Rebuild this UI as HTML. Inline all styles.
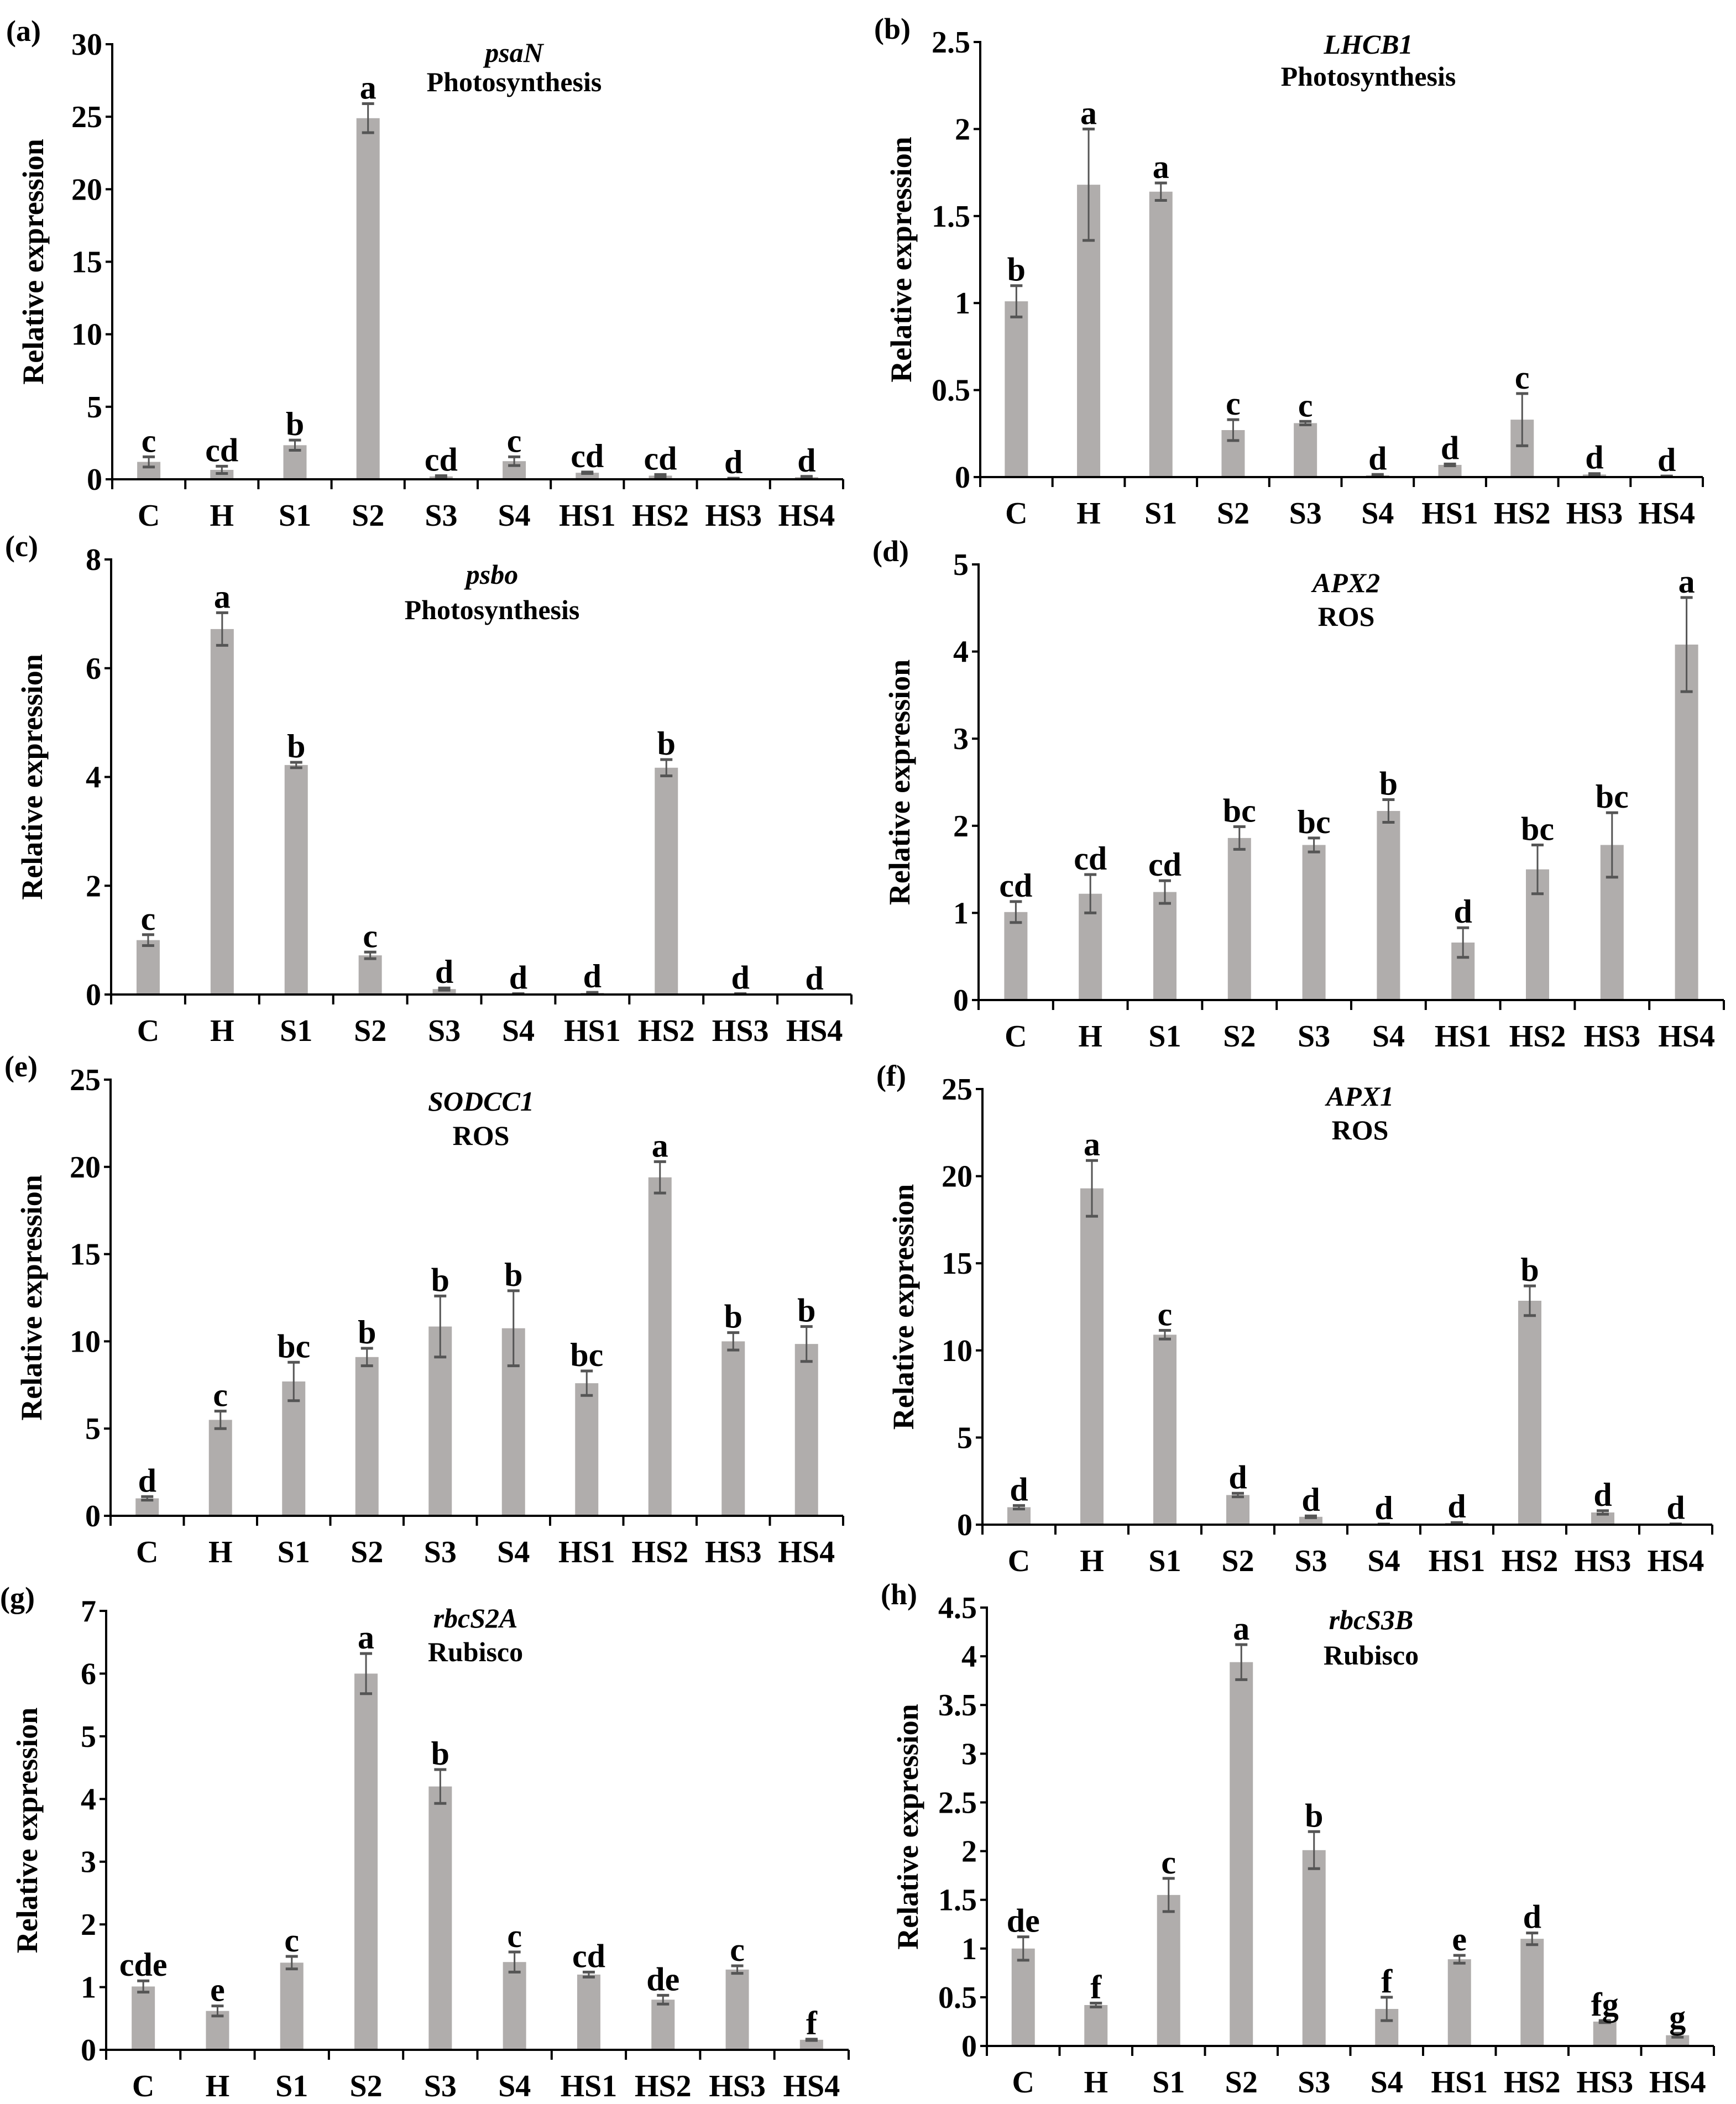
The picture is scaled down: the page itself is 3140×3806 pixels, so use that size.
<!DOCTYPE html>
<html><head><meta charset="utf-8"><style>
html,body{margin:0;padding:0;background:#fff}
svg{display:block}
text{font-family:"Liberation Serif",serif;font-weight:bold;fill:#000}
</style></head><body>
<svg id="fig" xmlns="http://www.w3.org/2000/svg" width="3140" height="3806" viewBox="0 0 3140 3806"></svg>
<script>
const categories = ["C","H","S1","S2","S3","S4","HS1","HS2","HS3","HS4"];
const valuesA = [1.2,0.65,2.35,24.9,0.2,1.25,0.45,0.25,0.05,0.15];
const errorsA = [0.35,0.25,0.35,1.0,0.05,0.3,0.05,0.08,0.02,0.05];
const lettersA = ["c","cd","b","a","cd","c","cd","cd","d","d"];
const valuesB = [1.01,1.68,1.64,0.27,0.31,0.01,0.07,0.33,0.015,0.005];
const errorsB = [0.09,0.32,0.05,0.06,0.01,0.005,0.005,0.15,0.005,0.001];
const lettersB = ["b","a","a","c","c","d","d","c","d","d"];
const valuesC = [1.0,6.72,4.22,0.72,0.1,0.01,0.03,4.17,0.01,0];
const errorsC = [0.1,0.3,0.05,0.06,0.02,0.005,0.01,0.15,0.005,0];
const lettersC = ["c","a","b","c","d","d","d","b","d","d"];
const valuesD = [1.01,1.22,1.24,1.86,1.78,2.17,0.66,1.5,1.78,4.08];
const errorsD = [0.12,0.22,0.13,0.13,0.08,0.13,0.17,0.28,0.37,0.54];
const lettersD = ["cd","cd","cd","bc","bc","b","d","bc","bc","a"];
const valuesE = [1.0,5.5,7.7,9.1,10.85,10.75,7.6,19.4,10.0,9.85];
const errorsE = [0.1,0.5,1.1,0.5,1.75,2.15,0.7,0.9,0.5,1.0];
const lettersE = ["d","c","bc","b","b","b","bc","a","b","b"];
const valuesF = [1.0,19.3,10.9,1.7,0.45,0.02,0.1,12.85,0.7,0.03];
const errorsF = [0.1,1.6,0.25,0.1,0.05,0.01,0.02,0.85,0.1,0.01];
const lettersF = ["d","a","c","d","d","d","d","b","d","d"];
const valuesG = [1.01,0.62,1.39,6.0,4.2,1.4,1.2,0.8,1.28,0.16];
const errorsG = [0.09,0.08,0.1,0.32,0.27,0.16,0.04,0.07,0.06,0.01];
const lettersG = ["cde","e","c","a","b","c","cd","de","c","f"];
const valuesH = [1.0,0.42,1.55,3.94,2.01,0.38,0.89,1.1,0.25,0.11];
const errorsH = [0.12,0.02,0.17,0.18,0.19,0.12,0.04,0.06,0.01,0.02];
const lettersH = ["de","f","c","a","b","f","e","d","fg","g"];
const ticksA = ["0","5","10","15","20","25","30"];
const ticksB = ["0","0.5","1","1.5","2","2.5"];
const ticksC = ["0","2","4","6","8"];
const ticksD = ["0","1","2","3","4","5"];
const ticksE = ["0","5","10","15","20","25"];
const ticksF = ["0","5","10","15","20","25"];
const ticksG = ["0","1","2","3","4","5","6","7"];
const ticksH = ["0","0.5","1","1.5","2","2.5","3","3.5","4","4.5"];

const panels = [
 {id:"a",gene:"psaN",sub:"Photosynthesis",v:valuesA,e:errorsA,l:lettersA,t:ticksA,x0:203,x1:1525,yt:80,yb:867,tx:930,g1:106,g2:159},
 {id:"b",gene:"LHCB1",sub:"Photosynthesis",v:valuesB,e:errorsB,l:lettersB,t:ticksB,x0:1773,x1:3080,yt:76,yb:863,tx:2475,g1:91,g2:149},
 {id:"c",gene:"psbo",sub:"Photosynthesis",v:valuesC,e:errorsC,l:lettersC,t:ticksC,x0:201,x1:1540,yt:1012,yb:1799,tx:890,g1:1050,g2:1114},
 {id:"d",gene:"APX2",sub:"ROS",v:valuesD,e:errorsD,l:lettersD,t:ticksD,x0:1770,x1:3118,yt:1021,yb:1809,tx:2435,g1:1065,g2:1126},
 {id:"e",gene:"SODCC1",sub:"ROS",v:valuesE,e:errorsE,l:lettersE,t:ticksE,x0:200,x1:1525,yt:1953,yb:2742,tx:870,g1:2003,g2:2065},
 {id:"f",gene:"APX1",sub:"ROS",v:valuesF,e:errorsF,l:lettersF,t:ticksF,x0:1777,x1:3097,yt:1970,yb:2758,tx:2460,g1:1994,g2:2055},
 {id:"g",gene:"rbcS2A",sub:"Rubisco",v:valuesG,e:errorsG,l:lettersG,t:ticksG,x0:192,x1:1535,yt:2914,yb:3708,tx:860,g1:2938,g2:2999},
 {id:"h",gene:"rbcS3B",sub:"Rubisco",v:valuesH,e:errorsH,l:lettersH,t:ticksH,x0:1785,x1:3100,yt:2908,yb:3701,tx:2480,g1:2941,g2:3005}
];
const NS="http://www.w3.org/2000/svg";
const svg=document.getElementById("fig");
function mk(tag,attrs,parent,txt){const el=document.createElementNS(NS,tag);for(const k in attrs)el.setAttribute(k,attrs[k]);if(txt!==undefined)el.textContent=txt;parent.appendChild(el);return el;}

panels.forEach(p=>{
  const g=mk("g",{},svg);
  
  
  const tmax=parseFloat(p.t[p.t.length-1]);
  const y=v=>p.yb-(v/tmax)*(p.yb-p.yt);
  const bw=(p.x1-p.x0)/categories.length;
  const xc=i=>p.x0+bw*(i+0.5);
  p.v.forEach((v,i)=>{
    const r=mk("rect",{x:xc(i)-21,y:y(v),width:42,height:p.yb-y(v),fill:"#b0adac"},g);
    
    
    const e=p.e[i];
    if(e>0){
      const eg=mk("g",{stroke:"#555",fill:"none"},g);
      
      
      mk("line",{x1:xc(i),x2:xc(i),y1:y(v+e),y2:y(Math.max(0,v-e)),"stroke-width":3},eg);
      mk("line",{x1:xc(i)-11,x2:xc(i)+11,y1:y(v+e),y2:y(v+e),"stroke-width":5},eg);
      mk("line",{x1:xc(i)-11,x2:xc(i)+11,y1:y(Math.max(0,v-e)),y2:y(Math.max(0,v-e)),"stroke-width":5},eg);
    }
    const lt=mk("text",{x:xc(i),y:y(v+e)-9,"text-anchor":"middle","font-size":60},g,p.l[i]);
    
    
  });
  const ax=mk("g",{stroke:"#000","stroke-width":4},g);
  
  
  mk("line",{x1:p.x0,x2:p.x0,y1:p.yt-2,y2:p.yb},ax);
  mk("line",{x1:p.x0-2,x2:p.x1,y1:p.yb,y2:p.yb},ax);
  for(let i=0;i<=categories.length;i++){mk("line",{x1:p.x0+bw*i,x2:p.x0+bw*i,y1:p.yb,y2:p.yb+18},ax);}
  p.t.forEach(t=>{
    const yy=y(parseFloat(t));
    mk("line",{x1:p.x0-12,x2:p.x0,y1:yy,y2:yy},ax);
    const tl=mk("text",{x:p.x0-18,y:yy+19,"text-anchor":"end","font-size":56},g,t);
    
    
  });
  categories.forEach((c,i)=>{
    const cl=mk("text",{x:xc(i),y:p.yb+84,"text-anchor":"middle","font-size":56},g,c);
    
    
  });
  const ym=(p.yt+p.yb)/2, yx=p.x0-125;
  const yt=mk("text",{x:yx,y:ym,"text-anchor":"middle","font-size":54,transform:`rotate(-90 ${yx} ${ym})`},g,"Relative expression");
  
  
  const pl=mk("text",{x:p.x0-192,y:p.yt-6,"font-size":54},g,"("+p.id+")");
  
  
  const gt=mk("text",{x:p.tx,y:p.g1+6,"text-anchor":"middle","font-size":50,"font-style":"italic","font-weight":"normal"},g,p.gene);
  
  
  const st=mk("text",{x:p.tx,y:p.g2+6,"text-anchor":"middle","font-size":50},g,p.sub);
  
  
});
</script>
</body></html>
